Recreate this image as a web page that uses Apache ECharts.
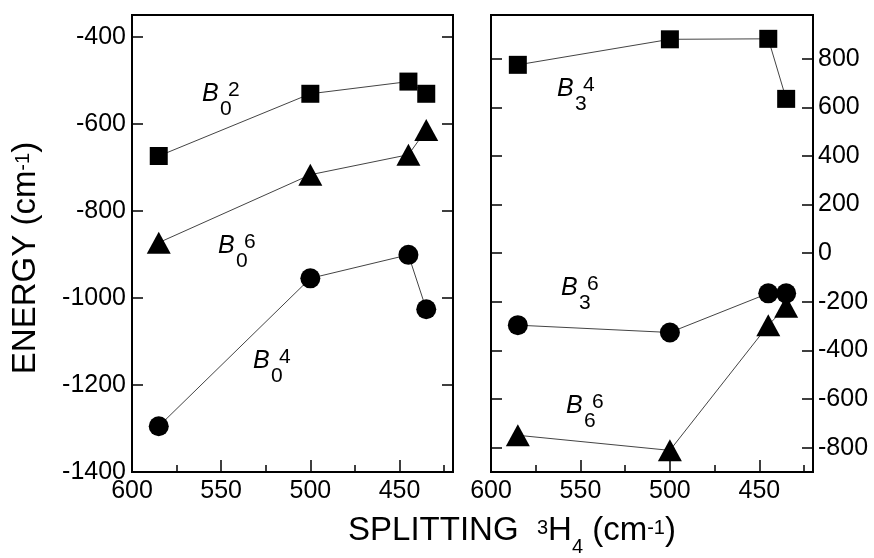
<!DOCTYPE html>
<html>
<head>
<meta charset="utf-8">
<script src="https://cdn.jsdelivr.net/npm/echarts@6/dist/echarts.min.js"></script>
<style>
  html, body { margin: 0; padding: 0; background: #fff; }
  #chart { width: 874px; height: 558px; }
</style>
</head>
<body>
<div id="chart"></div>
<script>
// splitting of 3H4 (cm-1), same for every series
var splitting = [585, 500, 445, 435];

// left panel
var b02 = [-674, -531, -503, -531];
var b06 = [-873, -717, -671, -614];
var b04 = [-1295, -955, -901, -1026];

// right panel
var b34 = [775, 880, 882, 635];
var b36 = [-296, -326, -165, -165];
var b66 = [-749, -811, -296, -220];

var xTicks = [600, 550, 500, 450];
var xMinorTicks = [575, 525, 475, 425];
var yLeftTicks = [-1400, -1200, -1000, -800, -600, -400];
var yRightTicks = [-800, -600, -400, -200, 0, 200, 400, 600, 800];

var FONT = '"Liberation Sans", Arial, sans-serif';

function pairs(ys) {
  return splitting.map(function (x, i) { return [x, ys[i]]; });
}
function plain(v) { return String(v); }

function xAxisMain(grid) {
  return {
    gridIndex: grid, type: 'value', min: 420, max: 600, inverse: true, position: 'bottom',
    axisLine: { onZero: false, lineStyle: { color: '#000', width: 2 } },
    axisTick: { inside: true, length: 12, customValues: xTicks, lineStyle: { color: '#000', width: 1.5 } },
    axisLabel: { customValues: xTicks, formatter: plain, color: '#000', fontSize: 25, fontFamily: FONT, margin: 7 },
    splitLine: { show: false }
  };
}
function xAxisMinor(grid) {
  return {
    gridIndex: grid, type: 'value', min: 420, max: 600, inverse: true, position: 'bottom',
    axisLine: { show: false, onZero: false },
    axisTick: { show: true, inside: true, length: 7, customValues: xMinorTicks, lineStyle: { color: '#000', width: 1.5 } },
    axisLabel: { show: false },
    splitLine: { show: false }
  };
}
function yAxis(grid, pos, min, max, ticks, labels) {
  return {
    gridIndex: grid, type: 'value', position: pos, min: min, max: max,
    axisLine: { show: true, onZero: false, lineStyle: { color: '#000', width: 2 } },
    axisTick: { show: true, inside: true, length: 11, customValues: ticks, lineStyle: { color: '#000', width: 1.5 } },
    axisLabel: { show: labels, customValues: ticks, formatter: plain, color: '#000', fontSize: 25, fontFamily: FONT, margin: pos === 'left' ? 6 : 5 },
    splitLine: { show: false }
  };
}

function serie(name, data, symbol, size, xi, yi) {
  return {
    name: name, type: 'line', xAxisIndex: xi, yAxisIndex: yi,
    data: pairs(data), symbol: symbol, symbolSize: size,
    itemStyle: { color: '#000' },
    lineStyle: { color: '#444', width: 1 },
    silent: true, animation: false, z: 3
  };
}

// B labels with sub- and superscripts
function bLabel(x, base, sub, sup) {
  return [
    { type: 'text', x: x, y: base - 9, style: { text: 'B', font: 'italic 25px ' + FONT, fill: '#000', align: 'left', verticalAlign: 'middle' } },
    { type: 'text', x: x + 18, y: base + 6, style: { text: sub, font: '21px ' + FONT, fill: '#000', align: 'left', verticalAlign: 'middle' } },
    { type: 'text', x: x + 26, y: base - 13, style: { text: sup, font: '21px ' + FONT, fill: '#000', align: 'left', verticalAlign: 'middle' } }
  ];
}

var titleRich = {
  a: { fontSize: 33, fontFamily: FONT, color: '#000', lineHeight: 33, verticalAlign: 'middle' },
  s: { fontSize: 20, fontFamily: FONT, color: '#000', lineHeight: 20, padding: [0, 0, 6, 0], verticalAlign: 'middle' },
  u: { fontSize: 20, fontFamily: FONT, color: '#000', lineHeight: 20, padding: [32, 0, 0, 0], verticalAlign: 'middle' }
};

var chart = echarts.init(document.getElementById('chart'));
chart.setOption({
  animation: false,
  backgroundColor: '#fff',
  grid: [
    { left: 132, right: 421, top: 15, bottom: 86, show: true, borderColor: '#000', borderWidth: 2, backgroundColor: 'transparent' },
    { left: 491, right: 61, top: 15, bottom: 86, show: true, borderColor: '#000', borderWidth: 2, backgroundColor: 'transparent' }
  ],
  xAxis: [xAxisMain(0), xAxisMinor(0), xAxisMain(1), xAxisMinor(1)],
  yAxis: [
    yAxis(0, 'left', -1400, -350, yLeftTicks, true),
    yAxis(0, 'right', -1400, -350, yLeftTicks, false),
    yAxis(1, 'right', -900, 980, yRightTicks, true),
    yAxis(1, 'left', -900, 980, yRightTicks, false)
  ],
  series: [
    serie('B02', b02, 'rect', 18, 0, 0),
    serie('B06', b06, 'triangle', [24, 22], 0, 0),
    serie('B04', b04, 'circle', 20, 0, 0),
    serie('B34', b34, 'rect', 18, 2, 2),
    serie('B36', b36, 'circle', 20, 2, 2),
    serie('B66', b66, 'triangle', [24, 22], 2, 2)
  ],
  graphic: [].concat(
    bLabel(202, 103, '0', '2'),
    bLabel(218, 255, '0', '6'),
    bLabel(253, 370, '0', '4'),
    bLabel(557, 98, '3', '4'),
    bLabel(561, 297, '3', '6'),
    bLabel(566, 415, '6', '6'),
    [
      { type: 'text', x: 26, y: 258, rotation: Math.PI / 2,
        style: { text: '{a|ENERGY (cm}{s|-1}{a|)}', rich: titleRich, align: 'center', verticalAlign: 'middle' } },
      { type: 'text', x: 512, y: 531,
        style: { text: '{a|SPLITTING  }{s|3}{a|H}{u|4}{a| (cm}{s|-1}{a|)}', rich: titleRich, align: 'center', verticalAlign: 'middle' } }
    ]
  )
});
</script>
</body>
</html>
